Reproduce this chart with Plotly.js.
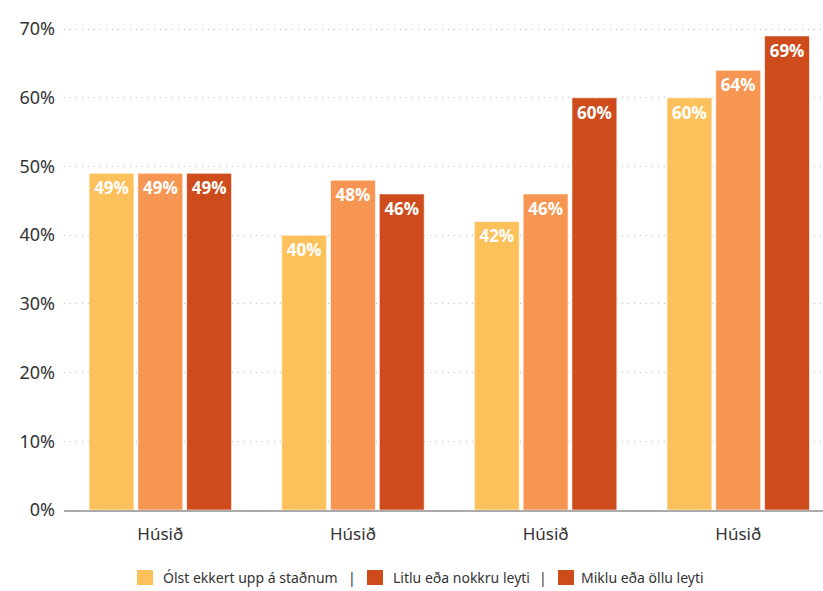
<!DOCTYPE html>
<html>
<head>
<meta charset="utf-8">
<script src="https://cdn.plot.ly/plotly-3.0.1.min.js"></script>
<style>html,body{margin:0;padding:0;background:#fff}#chart{width:823px;height:591px}</style>
</head>
<body>
<div id="chart"></div>
<script>
// Data
var categories = ["Húsið", "Húsið", "Húsið", "Húsið"];
var catIndex = [0, 1, 2, 3];
var seriesNames = ["Ólst ekkert upp á staðnum", "Litlu eða nokkru leyti", "Miklu eða öllu leyti"];
var olstEkkert = [49, 40, 42, 60];
var litluNokkru = [49, 48, 46, 64];
var mikluOllu = [49, 46, 60, 69];
var yTickVals = [0, 10, 20, 30, 40, 50, 60, 70];
var yTickText = ["0%", "10%", "20%", "30%", "40%", "50%", "60%", "70%"];

var barColors = ["#FDC15C", "#F79552", "#CE4B1B"];
var legendColors = ["#FDC15C", "#CE4B1B", "#CE4B1B"];
var seriesValues = [olstEkkert, litluNokkru, mikluOllu];

var traces = seriesValues.map(function (vals, i) {
  return {
    type: "bar",
    name: seriesNames[i],
    x: catIndex,
    y: vals,
    marker: { color: barColors[i], line: { color: "rgba(255,255,255,0.6)", width: 1 } },
    text: vals.map(function (v) { return v + "%"; }),
    textposition: "inside",
    insidetextanchor: "end",
    constraintext: "none",
    textangle: 0,
    textfont: { family: "Open Sans, sans-serif", size: 17, color: "#ffffff", weight: 700 },
    hoverinfo: "skip",
    showlegend: false
  };
});

// Layout geometry (pixel helpers for the hand-made legend)
var M = { l: 64, r: 0, t: 27, b: 81 };
var W = 823, H = 591;
var pw = W - M.l - M.r, ph = H - M.t - M.b;
function px(x) { return (x - M.l) / pw; }
function py(y) { return (H - M.b - y) / ph; }

var legendSquareX = [137, 367, 558];
var legendTextX = [161, 391, 579];
var legendSepX = [352, 543];
var legendY0 = 570, legendY1 = 585, legendYc = 577.5;

var shapes = legendSquareX.map(function (x, i) {
  return {
    type: "rect", xref: "paper", yref: "paper",
    x0: px(x), x1: px(x + 16), y0: py(legendY1), y1: py(legendY0),
    fillcolor: legendColors[i], line: { width: 0 }
  };
});

var annotations = seriesNames.map(function (n, i) {
  return {
    xref: "paper", yref: "paper", x: px(legendTextX[i]), y: py(legendYc),
    xanchor: "left", yanchor: "middle", showarrow: false, text: n,
    font: { family: "Noto Sans, sans-serif", size: 14, color: "#333333" }
  };
}).concat(legendSepX.map(function (x) {
  return {
    xref: "paper", yref: "paper", x: px(x), y: py(legendYc),
    xanchor: "center", yanchor: "middle", showarrow: false, text: "|",
    font: { family: "Noto Sans, sans-serif", size: 14, color: "#333333" }
  };
}));

var layout = {
  width: W,
  height: H,
  margin: M,
  paper_bgcolor: "#ffffff",
  plot_bgcolor: "#ffffff",
  barmode: "group",
  bargap: 0.24,
  bargroupgap: 0.08,
  showlegend: false,
  font: { family: "Noto Sans, sans-serif", color: "#333333" },
  xaxis: {
    range: [-0.5, 3.44],
    tickvals: catIndex,
    ticktext: categories,
    tickfont: { size: 17, color: "#333333" },
    showgrid: false,
    zeroline: false,
    showline: true,
    linecolor: "#aaaaaa",
    linewidth: 2,
    ticks: "",
    ticklabelstandoff: 8,
    fixedrange: true
  },
  yaxis: {
    range: [0, 70.3],
    tickvals: yTickVals,
    ticktext: yTickText,
    tickfont: { size: 18, color: "#333333" },
    showgrid: true,
    gridcolor: "#bdbdbd",
    griddash: "1px,5px",
    gridwidth: 1,
    zeroline: false,
    showline: false,
    ticks: "",
    ticklabelstandoff: 8,
    fixedrange: true
  },
  shapes: shapes,
  annotations: annotations
};

Plotly.newPlot("chart", traces, layout, { displayModeBar: false, staticPlot: true });
</script>
</body>
</html>
